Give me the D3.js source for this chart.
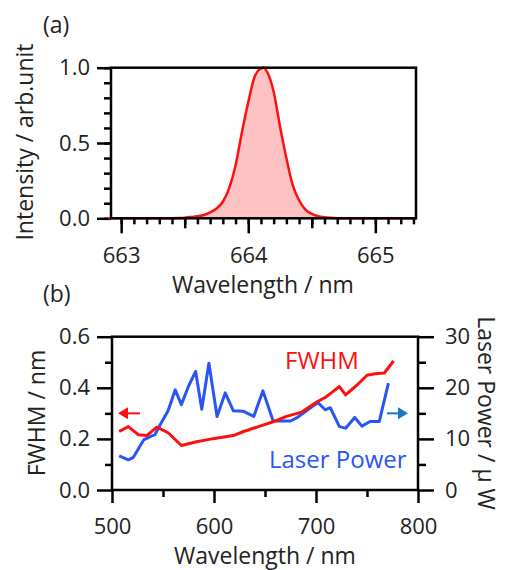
<!DOCTYPE html>
<html>
<head>
<meta charset="utf-8">
<script src="https://cdn.jsdelivr.net/npm/d3@7"></script>
<style>
  body { margin: 0; background: #fff; }
  svg { display: block; font-family: "Open Sans", "Noto Sans", sans-serif; }
  .axis path, .axis line { stroke: #000; stroke-width: 2.5; }
  .axis text { font-size: 22px; fill: #222; font-family: "Open Sans", sans-serif; }
  .title { font-size: 23px; fill: #222; }
</style>
</head>
<body>
<div id="chart"></div>
<script>
// (a) emission spectrum
const spectrumWl = [662.9, 663.0, 663.1, 663.2, 663.3, 663.4, 663.45, 663.5, 663.55, 663.6, 663.65,
  663.7, 663.75, 663.8, 663.85, 663.9, 663.95, 664.0, 664.05, 664.1, 664.12, 664.15, 664.2,
  664.25, 664.3, 664.35, 664.4, 664.45, 664.5, 664.55, 664.6, 664.65, 664.7, 664.8, 664.9,
  665.0, 665.1, 665.2, 665.32];
const spectrumI = [0, 0, 0, 0, 0, 0.001, 0.002, 0.004, 0.008, 0.013, 0.022,
  0.04, 0.065, 0.11, 0.2, 0.35, 0.57, 0.77, 0.94, 0.995, 1.0, 0.97, 0.84,
  0.61, 0.4, 0.22, 0.12, 0.058, 0.03, 0.014, 0.007, 0.003, 0.001, 0, 0,
  0, 0, 0, 0];

// (b) FWHM and laser power versus wavelength
const fwhmWl = [507, 516, 526, 534, 544, 555, 568, 583, 599, 619, 629, 645, 658, 671, 686,
  701, 709, 715, 723, 729, 740, 750, 758, 767, 776];
const fwhmVal = [0.229, 0.248, 0.216, 0.213, 0.246, 0.224, 0.174, 0.189, 0.201, 0.213, 0.229,
  0.25, 0.267, 0.288, 0.305, 0.345, 0.362, 0.38, 0.405, 0.372, 0.41, 0.449, 0.455, 0.458, 0.505];
const powerWl = [507, 516, 521, 531, 539, 542, 549, 555, 562, 568, 575, 582, 588, 595, 603,
  611, 619, 629, 639, 648, 658, 675, 681, 694, 702, 709, 714, 723, 729, 738, 745, 753, 762, 771];
const powerVal = [6.7, 5.9, 6.4, 9.8, 10.6, 10.8, 13.4, 15.5, 19.6, 16.7, 20.3, 23.2, 15.8, 24.8, 14.4,
  19.0, 15.5, 15.4, 14.4, 19.4, 13.5, 13.5, 14.1, 16.0, 17.1, 15.7, 16.1, 12.4, 12.1, 14.2, 12.5,
  13.4, 13.4, 20.9];

const specTicks = [663, 664, 665];
const intTicks = [0, 0.5, 1.0];
const wlTicks = [500, 600, 700, 800];
const fwhmTicks = [0, 0.2, 0.4, 0.6];
const powerTicks = [0, 10, 20, 30];

const RED = "#ff1010";
const BLUE = "#2a55f5";
const PINK = "#ffc2c2";
const ARROW_BLUE = "#1a78c0";

const width = 505, height = 570;
const svg = d3.select("#chart").append("svg")
  .attr("width", width).attr("height", height);

function drawAxis(g, axis) {
  g.attr("class", "axis").call(axis);
  g.select(".domain").remove();
  return g;
}

// ---------- panel (a) ----------
const xa = d3.scaleLinear().domain([662.92, 665.32]).range([111, 416]);
const ya = d3.scaleLinear().domain([0, 1]).range([218.3, 67.7]);

const fill = d3.area()
  .x((d, i) => xa(spectrumWl[i]))
  .y0(ya(0))
  .y1((d) => ya(d))
  .curve(d3.curveMonotoneX);
const line = d3.line()
  .x((d, i) => xa(spectrumWl[i]))
  .y((d) => ya(d))
  .curve(d3.curveMonotoneX);

svg.append("path").datum(spectrumI).attr("d", fill).attr("fill", PINK);

// minor / medium / major ticks
drawAxis(svg.append("g").attr("transform", `translate(0,${ya(0)})`),
  d3.axisBottom(xa).tickValues(d3.range(662.9, 665.35, 0.1).filter((v) => xa(v) >= 111)).tickSize(6).tickFormat(""));
drawAxis(svg.append("g").attr("transform", `translate(0,${ya(0)})`),
  d3.axisBottom(xa).tickValues([663.5, 664.5]).tickSize(10).tickFormat(""));
drawAxis(svg.append("g").attr("transform", `translate(0,${ya(0)})`),
  d3.axisBottom(xa).tickValues(specTicks).tickSize(15).tickPadding(14).tickFormat(d3.format("d")));
drawAxis(svg.append("g").attr("transform", `translate(${xa.range()[0]},0)`),
  d3.axisLeft(ya).tickValues(d3.range(0, 1.01, 0.1)).tickSize(7).tickFormat(""));
drawAxis(svg.append("g").attr("transform", `translate(${xa.range()[0]},0)`),
  d3.axisLeft(ya).tickValues(intTicks).tickSize(14).tickPadding(7).tickFormat(d3.format(".1f")));

svg.append("path").datum(spectrumI).attr("d", line)
  .attr("fill", "none").attr("stroke", RED).attr("stroke-width", 2.5);

svg.append("rect")
  .attr("x", xa.range()[0]).attr("y", ya.range()[1])
  .attr("width", xa.range()[1] - xa.range()[0])
  .attr("height", ya.range()[0] - ya.range()[1])
  .attr("fill", "none").attr("stroke", "#000").attr("stroke-width", 2.5);

svg.append("text").attr("class", "title").attr("x", 43).attr("y", 33).text("(a)");
svg.append("text").attr("class", "title")
  .attr("x", 263).attr("y", 293).attr("text-anchor", "middle")
  .text("Wavelength / nm");
svg.append("text").attr("class", "title")
  .attr("transform", "translate(25,142) rotate(-90)")
  .attr("text-anchor", "middle").attr("dy", "0.35em")
  .text("Intensity / arb.unit");

// ---------- panel (b) ----------
const xb = d3.scaleLinear().domain([500, 800]).range([112, 418]);
const yl = d3.scaleLinear().domain([0, 0.6]).range([490, 336.7]);
const yr = d3.scaleLinear().domain([0, 30]).range([490, 336.7]);

drawAxis(svg.append("g").attr("transform", `translate(0,${yl(0)})`),
  d3.axisBottom(xb).tickValues([550, 650, 750]).tickSize(7).tickFormat(""));
drawAxis(svg.append("g").attr("transform", `translate(0,${yl(0)})`),
  d3.axisBottom(xb).tickValues(wlTicks).tickSize(13).tickPadding(15).tickFormat(d3.format("d")));
drawAxis(svg.append("g").attr("transform", `translate(${xb.range()[0]},0)`),
  d3.axisLeft(yl).tickValues([0.1, 0.3, 0.5]).tickSize(7).tickFormat(""));
drawAxis(svg.append("g").attr("transform", `translate(${xb.range()[0]},0)`),
  d3.axisLeft(yl).tickValues(fwhmTicks).tickSize(15).tickPadding(7).tickFormat(d3.format(".1f")));
drawAxis(svg.append("g").attr("transform", `translate(${xb.range()[1]},0)`),
  d3.axisRight(yr).tickValues([5, 15, 25]).tickSize(8).tickFormat(""));
drawAxis(svg.append("g").attr("transform", `translate(${xb.range()[1]},0)`),
  d3.axisRight(yr).tickValues(powerTicks).tickSize(16).tickPadding(11).tickFormat(d3.format("d")));

svg.append("rect")
  .attr("x", xb.range()[0]).attr("y", yl.range()[1])
  .attr("width", xb.range()[1] - xb.range()[0])
  .attr("height", yl.range()[0] - yl.range()[1])
  .attr("fill", "none").attr("stroke", "#000").attr("stroke-width", 2.5);

svg.append("path").datum(powerVal)
  .attr("d", d3.line().x((d, i) => xb(powerWl[i])).y((d) => yr(d)))
  .attr("fill", "none").attr("stroke", BLUE).attr("stroke-width", 3)
  .attr("stroke-linejoin", "round");
svg.append("path").datum(fwhmVal)
  .attr("d", d3.line().x((d, i) => xb(fwhmWl[i])).y((d) => yl(d)))
  .attr("fill", "none").attr("stroke", RED).attr("stroke-width", 3)
  .attr("stroke-linejoin", "round");

svg.append("text").attr("x", 285).attr("y", 369)
  .attr("font-size", 24).attr("fill", RED).text("FWHM");
svg.append("text").attr("x", 269).attr("y", 468)
  .attr("font-size", 24).attr("fill", BLUE).text("Laser Power");

// side arrows
function arrow(x0, x1, y, color) {
  const dir = Math.sign(x1 - x0);
  svg.append("line").attr("x1", x0).attr("x2", x1 - dir * 6)
    .attr("y1", y).attr("y2", y).attr("stroke", color).attr("stroke-width", 2);
  svg.append("path")
    .attr("d", `M${x1},${y} L${x1 - dir * 10},${y - 6} L${x1 - dir * 10},${y + 6} Z`)
    .attr("fill", color);
}
arrow(140, 118, yl(0.3), RED);
arrow(387, 408, yr(15), ARROW_BLUE);

svg.append("text").attr("class", "title").attr("x", 43).attr("y", 302).text("(b)");
svg.append("text").attr("class", "title")
  .attr("x", 265).attr("y", 564).attr("text-anchor", "middle")
  .text("Wavelength / nm");
svg.append("text").attr("class", "title")
  .attr("transform", "translate(37,413) rotate(-90)")
  .attr("text-anchor", "middle").attr("dy", "0.35em")
  .text("FWHM / nm");
svg.append("text").attr("class", "title")
  .attr("transform", "translate(486,413) rotate(90)")
  .attr("text-anchor", "middle").attr("dy", "0.35em")
  .text("Laser Power / μ W");
</script>
</body>
</html>
